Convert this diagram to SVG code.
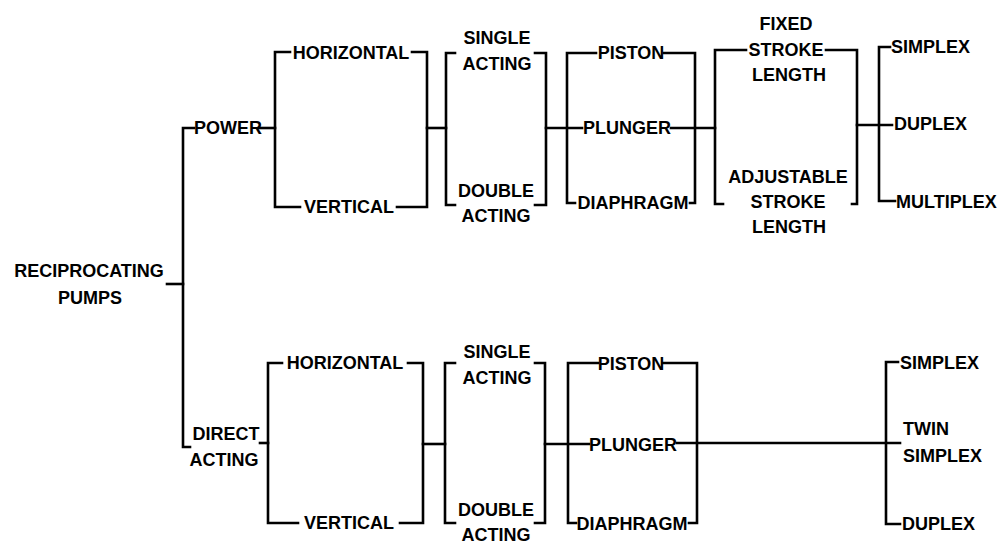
<svg xmlns="http://www.w3.org/2000/svg" width="1006" height="545" viewBox="0 0 1006 545">
<style>
text{font-family:"Liberation Sans",Arial,sans-serif;font-weight:bold;font-size:18px;fill:#000}
.m{text-anchor:middle}
.s{text-anchor:start}
#connectors path{fill:none;stroke:#000;stroke-width:2.6;stroke-linecap:square;stroke-linejoin:miter}
</style>
<rect width="1006" height="545" fill="#fff"/>
<g id="connectors">
<path d="M167 284H183"/>
<path d="M194 128H183V447H190"/>
<path d="M259 128H275"/>
<path d="M290 52H275V207H300"/>
<path d="M412 52H427V207H397"/>
<path d="M427 128H446"/>
<path d="M455 53H446V205H455"/>
<path d="M535 53H546V205H535"/>
<path d="M546 128H582"/>
<path d="M596 53H567V203H575"/>
<path d="M664 53H695V203H690"/>
<path d="M671 128H715"/>
<path d="M746 50H715V204H723"/>
<path d="M826 50H857V204H852"/>
<path d="M857 125H892"/>
<path d="M890 47H879V201H895"/>
<path d="M260 443H268"/>
<path d="M282 363H268V523H298"/>
<path d="M408 363H423V523H400"/>
<path d="M423 444H445"/>
<path d="M455 363H445V523H455"/>
<path d="M535 363H545V523H535"/>
<path d="M545 444H589"/>
<path d="M598 363H568V523H576"/>
<path d="M663 363H697V523H689"/>
<path d="M677 443H900"/>
<path d="M898 362H886V524H900"/>
</g>
<g id="root"><text class="m" x="89" y="277">RECIPROCATING</text><text class="m" x="90" y="304">PUMPS</text></g>
<g id="power"><text class="m" x="228" y="134">POWER</text></g>
<g id="p-horizontal"><text class="m" x="351" y="59">HORIZONTAL</text></g>
<g id="p-vertical"><text class="m" x="349" y="213">VERTICAL</text></g>
<g id="p-single"><text class="m" x="497" y="44">SINGLE</text><text class="m" x="497" y="70">ACTING</text></g>
<g id="p-double"><text class="m" x="496" y="197">DOUBLE</text><text class="m" x="496" y="222">ACTING</text></g>
<g id="p-piston"><text class="m" x="631" y="59">PISTON</text></g>
<g id="p-plunger"><text class="m" x="627" y="134">PLUNGER</text></g>
<g id="p-diaphragm"><text class="m" x="633" y="209">DIAPHRAGM</text></g>
<g id="p-fixed"><text class="m" x="786" y="30">FIXED</text><text class="m" x="786" y="56">STROKE</text><text class="m" x="789" y="81">LENGTH</text></g>
<g id="p-adjustable"><text class="m" x="788" y="183">ADJUSTABLE</text><text class="m" x="788" y="208">STROKE</text><text class="m" x="789" y="233">LENGTH</text></g>
<g id="p-simplex"><text class="s" x="891" y="53">SIMPLEX</text></g>
<g id="p-duplex"><text class="s" x="894" y="130">DUPLEX</text></g>
<g id="p-multiplex"><text class="s" x="896" y="208">MULTIPLEX</text></g>
<g id="direct"><text class="m" x="226" y="440">DIRECT</text><text class="m" x="224" y="466">ACTING</text></g>
<g id="d-horizontal"><text class="m" x="345" y="369">HORIZONTAL</text></g>
<g id="d-vertical"><text class="m" x="349" y="529">VERTICAL</text></g>
<g id="d-single"><text class="m" x="497" y="358">SINGLE</text><text class="m" x="497" y="384">ACTING</text></g>
<g id="d-double"><text class="m" x="496" y="516">DOUBLE</text><text class="m" x="496" y="541">ACTING</text></g>
<g id="d-piston"><text class="m" x="631" y="370">PISTON</text></g>
<g id="d-plunger"><text class="m" x="633" y="451">PLUNGER</text></g>
<g id="d-diaphragm"><text class="m" x="632" y="530">DIAPHRAGM</text></g>
<g id="d-simplex"><text class="s" x="900" y="369">SIMPLEX</text></g>
<g id="d-twin"><text class="s" x="903" y="435">TWIN</text><text class="s" x="903" y="462">SIMPLEX</text></g>
<g id="d-duplex"><text class="s" x="902" y="530">DUPLEX</text></g>
</svg>
